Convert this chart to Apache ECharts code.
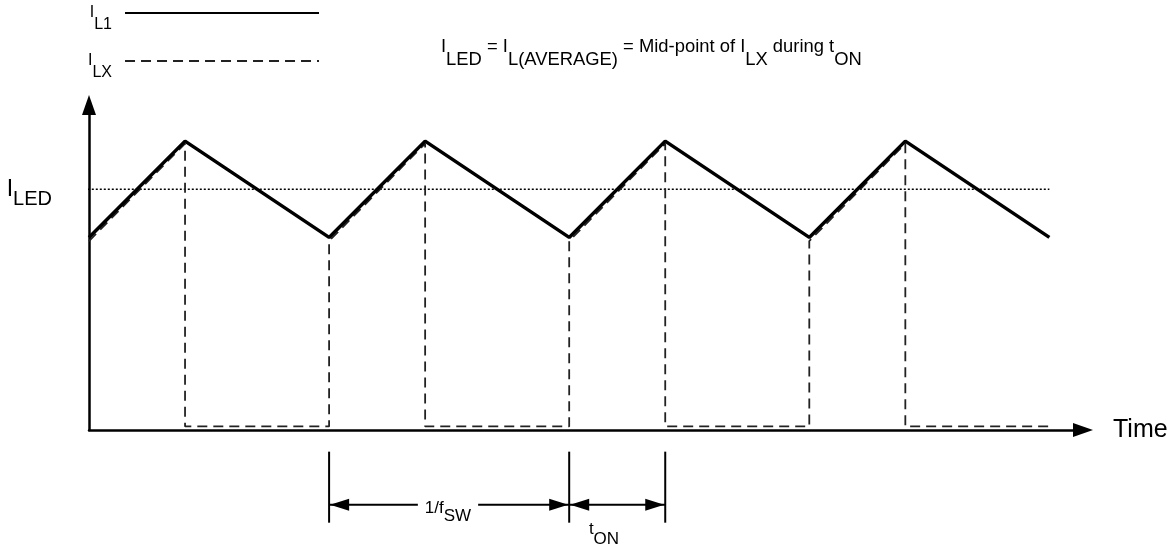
<!DOCTYPE html>
<html>
<head>
<meta charset="utf-8">
<script src="https://cdn.jsdelivr.net/npm/echarts@6/dist/echarts.min.js"></script>
<style>
html, body { margin: 0; padding: 0; background: #fff; }
#main { width: 1174px; height: 545px; }
</style>
</head>
<body>
<div id="main"></div>
<script>
// inductor current I_L1 (solid line), time in arbitrary units (period = 10, tON = 4)
var timeL1 = [0, 4, 10, 14, 20, 24, 30, 34, 40];
var currL1 = [0.8, 1.2, 0.8, 1.2, 0.8, 1.2, 0.8, 1.2, 0.8];
// switch current I_LX (dashed): follows I_L1 during tON, zero otherwise
var timeLX = [0, 4, 4, 10, 10, 14, 14, 20, 20, 24, 24, 30, 30, 34, 34, 40];
var currLX = [0.785, 1.19, 0.015, 0.015, 0.785, 1.19, 0.015, 0.015, 0.785, 1.19, 0.015, 0.015, 0.785, 1.19, 0.015, 0.015];
// I_LED average level (dotted)
var ledTime = [-1.05, 40];
var ledLevel = 1.0;
// dimension marks under the time axis
var dimTicks = [10, 20, 24];
var dimSpans = [[10, 20], [20, 24]];

var FONT = 'Liberation Sans, Arial, sans-serif';

// rich text: main token sits at block centre, subscript pushed down by `shift`
function subStyles(size, subSize, shift) {
	var lh = subSize + 2;
	return {
		m: { fontSize: size, lineHeight: lh + 2 * shift, color: '#000', fontFamily: FONT },
		s: { fontSize: subSize, lineHeight: lh, verticalAlign: 'bottom', color: '#000', fontFamily: FONT },
		g: { width: 8, lineHeight: lh }
	};
}

function zip(xs, ys) {
	return xs.map(function (x, i) { return [x, ys[i]]; });
}

var chartDom = document.getElementById('main');
var myChart = echarts.init(chartDom);
var option;

option = {
	animation: false,
	backgroundColor: '#fff',
	grid: {
		left: 89,
		right: 91,
		top: 105,
		bottom: 115
	},
	legend: {
		data: ['IL1', 'ILX'],
		orient: 'vertical',
		align: 'right',
		left: 88,
		top: 5,
		padding: 0,
		itemWidth: 194,
		itemHeight: 14,
		itemGap: 20,
		selectedMode: false,
		itemStyle: { opacity: 0 },
		formatter: function (name) {
			return name === 'IL1' ? '{m|I}{s|L1}{g| }' : '{m|I}{s|LX}{g| }';
		},
		textStyle: { rich: subStyles(16, 16, 11) }
	},
	xAxis: {
		type: 'value',
		min: 0,
		max: 41.4,
		name: 'Time',
		nameLocation: 'end',
		nameGap: 30,
		nameTextStyle: { fontSize: 25, color: '#000', fontFamily: FONT },
		axisLine: {
			show: true,
			symbol: ['none', 'triangle'],
			symbolSize: [14, 20],
			lineStyle: { color: '#000', width: 2.5 }
		},
		axisTick: { show: false },
		axisLabel: { show: false },
		splitLine: { show: false }
	},
	yAxis: {
		type: 'value',
		min: 0,
		max: 1.35,
		axisLine: {
			show: true,
			symbol: ['none', 'triangle'],
			symbolSize: [14, 20],
			lineStyle: { color: '#000', width: 2.5 }
		},
		axisTick: { show: false },
		splitLine: { show: false },
		axisLabel: {
			customValues: [ledLevel],
			margin: 37,
			formatter: function () { return '{m|I}{s|LED}'; },
			rich: subStyles(23, 20, 9)
		}
	},
	graphic: [
		{
			type: 'text',
			x: 441,
			y: 47,
			z: 100,
			style: {
				text: '{m|I}{s|LED}{m| = I}{s|L(AVERAGE)}{m| = Mid-point of I}{s|LX}{m| during t}{s|ON}',
				rich: subStyles(18.4, 18.4, 12),
				align: 'left',
				verticalAlign: 'middle'
			}
		},
		{
			type: 'text',
			x: 448,
			y: 508,
			z: 100,
			style: {
				text: '{m|1/f}{s|SW}',
				rich: subStyles(17, 17, 7.5),
				align: 'center',
				verticalAlign: 'middle',
				backgroundColor: '#fff',
				padding: [0, 7]
			}
		},
		{
			type: 'text',
			x: 604,
			y: 529,
			z: 100,
			style: {
				text: '{m|t}{s|ON}',
				rich: subStyles(17, 17, 9),
				align: 'center',
				verticalAlign: 'middle'
			}
		}
	],
	series: [
		{
			name: 'IL1',
			type: 'line',
			data: zip(timeL1, currL1),
			symbol: 'none',
			z: 4,
			lineStyle: { color: '#000', width: 3.5 },
			itemStyle: { color: '#000' }
		},
		{
			name: 'ILX',
			type: 'line',
			data: zip(timeLX, currLX),
			symbol: 'none',
			z: 3,
			lineStyle: { color: '#222', width: 1.8, type: [10, 6] },
			itemStyle: { color: '#222' }
		},
		{
			name: 'ILED',
			type: 'line',
			data: ledTime.map(function (t) { return [t, ledLevel]; }),
			symbol: 'none',
			clip: false,
			silent: true,
			z: 2,
			lineStyle: { color: '#000', width: 1.5, type: [2, 2] }
		},
		{
			name: 'dimTicks',
			type: 'custom',
			clip: false,
			silent: true,
			data: dimTicks.map(function (t) { return [t]; }),
			renderItem: function (params, api) {
				var a = api.coord([api.value(0), -0.09]);
				var b = api.coord([api.value(0), -0.385]);
				return {
					type: 'line',
					shape: { x1: a[0], y1: a[1], x2: b[0], y2: b[1] },
					style: { stroke: '#000', lineWidth: 2 }
				};
			}
		},
		{
			name: 'dimSpans',
			type: 'custom',
			clip: false,
			silent: true,
			data: dimSpans,
			renderItem: function (params, api) {
				var p0 = api.coord([api.value(0), -0.31]);
				var p1 = api.coord([api.value(1), -0.31]);
				var L = 20, H = 6;
				return {
					type: 'group',
					children: [
						{
							type: 'line',
							shape: { x1: p0[0], y1: p0[1], x2: p1[0], y2: p1[1] },
							style: { stroke: '#000', lineWidth: 2 }
						},
						{
							type: 'polygon',
							shape: { points: [[p0[0] + 1, p0[1]], [p0[0] + L, p0[1] - H], [p0[0] + L, p0[1] + H]] },
							style: { fill: '#000' }
						},
						{
							type: 'polygon',
							shape: { points: [[p1[0] - 1, p1[1]], [p1[0] - L, p1[1] - H], [p1[0] - L, p1[1] + H]] },
							style: { fill: '#000' }
						}
					]
				};
			}
		}
	]
};

option && myChart.setOption(option);
</script>
</body>
</html>
